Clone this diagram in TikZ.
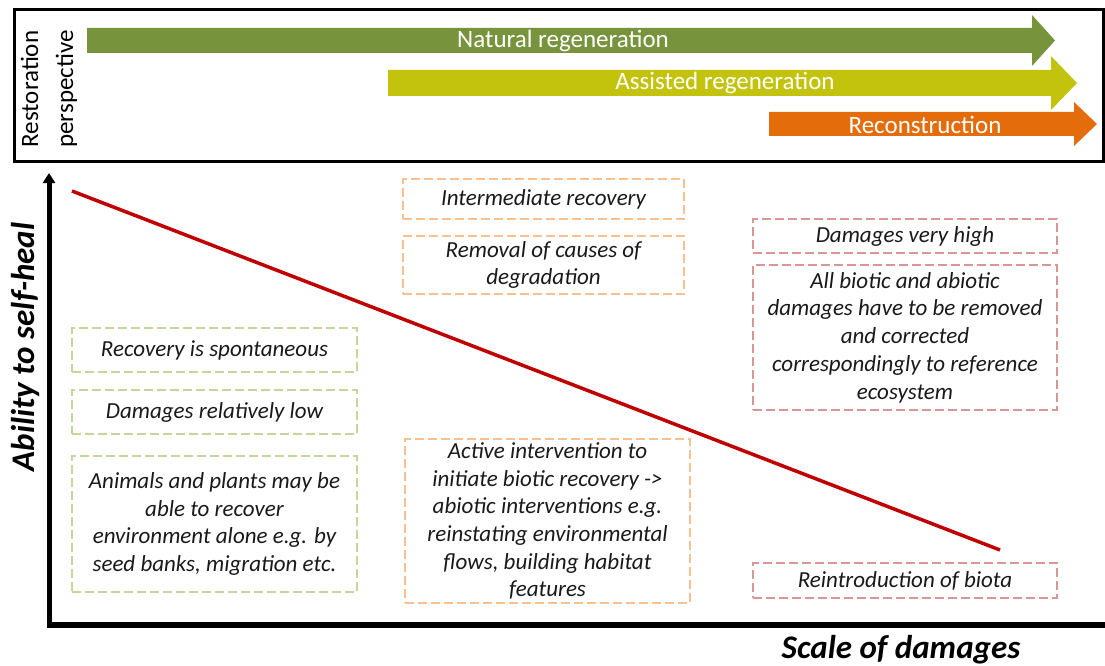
\documentclass[tikz,border=0pt]{standalone}
\usepackage{fontspec}
\setmainfont{Carlito}
\usetikzlibrary{arrows.meta}
\definecolor{natgreen}{HTML}{77933C}
\definecolor{assyellow}{HTML}{C3C30E}
\definecolor{recorange}{HTML}{E46C0A}
\definecolor{linered}{HTML}{C00000}
\definecolor{boxgreen}{HTML}{C3D69B}
\definecolor{boxorange}{HTML}{FAC090}
\definecolor{boxred}{HTML}{D99694}
\definecolor{txt}{HTML}{1A1A1A}
\begin{document}
\begin{tikzpicture}[x=1pt,y=-1pt,
  dbox/.style={draw, dash pattern=on 9pt off 4pt, line width=2.6pt, align=center,
    font=\fontsize{23}{27.7}\selectfont\itshape, inner sep=0pt, text=txt},
  gbox/.style={dbox, draw=boxgreen, minimum width=285pt},
  obox/.style={dbox, draw=boxorange},
  rbox/.style={dbox, draw=boxred, minimum width=304pt},
  arrtext/.style={text=white, font=\fontsize{25}{30}\selectfont, inner sep=0pt},
  axislabel/.style={font=\fontsize{33}{40}\selectfont\bfseries\itshape, text=black, inner sep=0pt}
]
\useasboundingbox (0,0) rectangle (1105,666);
\fill[white] (0,0) rectangle (1105,666);

% top panel
\draw[line width=3pt] (14,10) rectangle (1103,161);
\node[rotate=90, align=center, font=\fontsize{25}{35}\selectfont, inner sep=0pt] (rp) at (49,89) {Restoration\\perspective};

\fill[natgreen] (87,28) -- (1032,28) -- (1032,15) -- (1055,40.5) -- (1032,66) -- (1032,53) -- (87,53) -- cycle;
\fill[assyellow] (388,70) -- (1051,70) -- (1051,56) -- (1077,83) -- (1051,110) -- (1051,96) -- (388,96) -- cycle;
\fill[recorange] (769,112) -- (1074,112) -- (1074,102) -- (1097,124) -- (1074,146) -- (1074,136) -- (769,136) -- cycle;
\node[arrtext] (nat) at (563,41) {Natural regeneration};
\node[arrtext] (ass) at (725,83) {Assisted regeneration};
\node[arrtext] (rec) at (925,125) {Reconstruction};

% axes
\coordinate (origin) at (49,625);
\coordinate (ytop) at (49,173);
\coordinate (xstart) at (46.5,625);
\coordinate (xend) at (1105,625);
\draw[line width=6pt] (xstart) -- (xend);
\draw[line width=5pt, -{Triangle[width=12pt,length=10pt]}] (origin) -- (ytop);
\node[axislabel, rotate=90] (ylab) at (26,347) {Ability to self-heal};
\node[axislabel, anchor=base] (xlab) at (901,658) {Scale of damages};

% red line
\coordinate (lstart) at (72,191);
\coordinate (lend) at (1000,550);
\draw[linered, line width=3.5pt] (lstart) -- (lend);

% green boxes
\node[gbox, minimum height=44pt] (g1) at (214.5,350) {Recovery is spontaneous};
\node[gbox, minimum height=44pt] (g2) at (214.5,412) {Damages relatively low};
\node[gbox, minimum height=136pt] (g3) at (214.5,524) {Animals and plants may be\\able to recover\\environment alone e.g. by\\seed banks, migration etc.};

% orange boxes
\node[obox, minimum width=281pt, minimum height=40pt] (o1) at (543.5,199) {Intermediate recovery};
\node[obox, minimum width=281pt, minimum height=58pt] (o2) at (543.5,265) {Removal of causes of\\degradation};
\node[obox, minimum width=285pt, minimum height=164pt] (o3) at (547.5,521) {Active intervention to\\initiate biotic recovery ->\\abiotic interventions e.g.\\reinstating environmental\\flows, building habitat\\features};

% red boxes
\node[rbox, minimum height=34pt] (r1) at (905,236) {Damages very high};
\node[rbox, minimum height=145pt] (r2) at (905,337.5) {All biotic and abiotic\\damages have to be removed\\and corrected\\correspondingly to reference\\ecosystem};
\node[rbox, minimum height=35pt] (r3) at (905,580.5) {Reintroduction of biota};
\end{tikzpicture}
\end{document}
